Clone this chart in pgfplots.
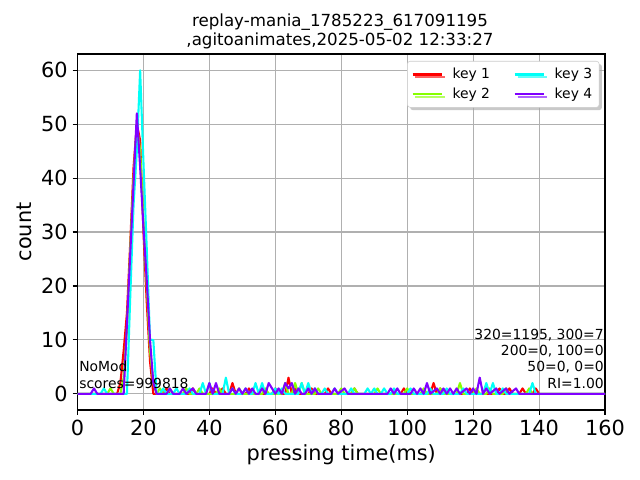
\documentclass[border=0pt]{standalone}
\usepackage{fontspec}
\setmainfont{DejaVu Sans}
\usepackage{pgfplots}
\pgfplotsset{compat=1.18}
\usetikzlibrary{shadows}
\definecolor{k1}{rgb}{1,0,0}
\definecolor{k2}{rgb}{0.53,1,0}
\definecolor{k3}{rgb}{0,1,0.97}
\definecolor{k4}{rgb}{0.5,0,1}
\definecolor{gridc}{HTML}{B0B0B0}
\definecolor{legc}{HTML}{CCCCCC}
\makeatletter
\pgfplotsset{legend image code/.code={\let\tikz@preactions\pgfutil@empty\let\tikz@postactions\pgfutil@empty
  \draw[#1, line width=1.5pt] (0pt,0pt) -- (21pt,0pt);}}
\makeatother
\begin{document}
\begin{tikzpicture}
\path[use as bounding box, fill=white] (0,0) rectangle (460.8pt,345.6pt);
\begin{axis}[
  at={(55.8pt,50.4pt)}, anchor=south west,
  scale only axis, width=379.8pt, height=256.3pt,
  xmin=0, xmax=160, ymin=-3, ymax=63,
  xtick={0,20,...,160}, ytick={0,10,...,60},
  grid=major, grid style={color=gridc, line width=0.8pt},
  axis line style={line width=0.8pt},
  tick align=outside, xtick pos=bottom, ytick pos=left,
  major tick length=3.5pt,
  every tick/.style={line width=0.8pt, black},
  ticklabel style={font=\fontsize{15}{18}\selectfont},
  /pgf/number format/assume math mode=true,
  xlabel={pressing time(ms)}, ylabel={count},
  label style={font=\fontsize{15}{18}\selectfont},
  legend columns=2, transpose legend,
  legend style={at={(1,1)}, anchor=north east, xshift=-4pt, yshift=-5pt,
    draw=legc, fill=white, rounded corners=2pt,
    drop shadow={shadow xshift=2pt, shadow yshift=-2pt, fill=gray!70, opacity=0.6},
    font=\fontsize{10}{12}\selectfont, inner xsep=3pt, inner ysep=3pt, row sep=1pt,
    /tikz/every odd column/.append style={column sep=5pt},
    /tikz/every even column/.append style={column sep=15pt}},
  every axis plot/.append style={line width=1.5pt, line join=round},
]
\addplot[k1] coordinates {(0,0)(12,0)(13,2)(14,8)(15,15)(16,28)(17,42)(18,50)(19,47)(20,30)(21,17)(22,6)(23,0)
(26,0)(27,1)(28,0)(34,0)(35,1)(36,0)(40,0)(41,1)(42,0)(43,0)(44,1)(45,0)(46,0)(47,2)(48,0)(51,0)(52,1)(53,0)(59,0)(60,1)(61,0)(63,0)(64,3)(65,0)(66,1)(67,0)(70,0)(71,1)(72,0)(75,0)(76,1)(77,0)(83,0)(84,1)(85,0)(98,0)(99,1)(100,0)(107,0)(108,2)(109,0)(110,1)(111,0)(118,0)(119,1)(120,0)(127,0)(128,1)(129,0)(130,0)(131,1)(132,0)(134,0)(135,1)(136,0)(138,0)(139,1)(140,0)(160,0)};
\addplot[k2] coordinates {(0,0)(9,0)(10,1)(11,0)(13,0)(14,3)(15,12)(16,27)(17,40)(18,50)(19,45)(20,32)(21,20)(22,8)(23,2)(24,0)
(25,1)(26,0)(27,0)(28,1)(29,0)(32,0)(33,1)(34,0)(36,0)(37,1)(38,0)(42,0)(43,1)(44,0)(48,0)(49,1)(50,0)(56,0)(57,1)(58,0)(62,0)(63,2)(64,0)(65,0)(66,2)(67,0)(68,2)(69,0)(72,0)(73,1)(74,0)(79,0)(80,1)(81,0)(83,0)(84,1)(85,0)(90,0)(91,1)(92,0)(99,0)(100,1)(101,0)(104,0)(105,1)(106,0)(109,0)(110,1)(111,0)(115,0)(116,2)(117,0)(120,0)(121,1)(122,0)(124,0)(125,1)(126,0)(129,0)(130,1)(131,0)(136,0)(137,1)(138,0)(160,0)};
\addplot[k3] coordinates {(0,0)(7,0)(8,1)(9,0)(15,0)(16,18)(17,35)(18,45)(19,60)(20,43)(21,27)(22,10)(23,10)(24,0)
(25,0)(26,1)(27,0)(29,0)(30,1)(31,0)(33,0)(34,1)(35,0)(37,0)(38,2)(39,0)(40,2)(41,0)(44,0)(45,3)(46,0)(47,1)(48,0)(50,0)(51,1)(52,0)(53,0)(54,2)(55,0)(56,2)(57,0)(59,0)(60,1)(61,0)(62,1)(63,0)(67,0)(68,2)(69,0)(70,2)(71,0)(72,1)(73,0)(74,0)(75,1)(76,0)(77,0)(78,1)(79,0)(82,0)(83,1)(84,0)(87,0)(88,1)(89,0)(90,1)(91,0)(92,0)(93,1)(94,0)(95,0)(96,1)(97,0)(100,0)(101,1)(102,0)(106,0)(107,1)(108,0)(111,0)(112,1)(113,0)(116,0)(117,1)(118,0)(123,0)(124,2)(125,0)(126,2)(127,0)(128,0)(129,1)(130,0)(137,0)(138,2)(139,0)(160,0)};
\addplot[k4] coordinates {(0,0)(4,0)(5,1)(6,0)(14,0)(15,13)(16,26)(17,39)(18,52)(19,42)(20,31)(21,21)(22,10)(23,2)(24,0)
(27,0)(28,1)(29,0)(31,0)(32,1)(33,0)(35,1)(36,0)(39,0)(40,2)(41,0)(42,2)(43,0)(46,0)(47,1)(48,0)(49,1)(50,0)(51,1)(52,0)(53,1)(54,0)(55,0)(56,1)(57,0)(58,2)(59,1)(60,0)(61,1)(62,0)(63,2)(64,1)(65,2)(66,0)(67,1)(68,0)(69,0)(70,1)(71,0)(72,1)(73,0)(77,0)(78,1)(79,0)(81,1)(82,0)(94,0)(95,1)(96,0)(97,1)(98,0)(101,0)(102,1)(103,0)(104,1)(105,0)(106,2)(107,0)(109,1)(110,0)(111,1)(112,0)(113,1)(114,0)(115,1)(116,0)(118,1)(119,0)(120,1)(121,0)(122,3)(123,0)(124,1)(125,0)(127,1)(128,0)(130,1)(131,0)(133,1)(134,0)(160,0)};
\legend{key 1, key 2, key 3, key 4}
\end{axis}
\node[anchor=base, font=\fontsize{12}{14}\selectfont] at (244.8pt,326.4pt) {replay-mania\_1785223\_617091195};
\node[anchor=base, font=\fontsize{12}{14}\selectfont] at (244.8pt,312.7pt) {,agitoanimates,2025-05-02 12:33:27};
\node[anchor=base west, inner sep=0pt, font=\fontsize{10}{12}\selectfont] at (56.9pt,77.8pt) {NoMod};
\node[anchor=base west, inner sep=0pt, font=\fontsize{10}{12}\selectfont] at (56.9pt,66.2pt) {scores=999818};
\node[anchor=base east, inner sep=0pt, font=\fontsize{10}{12}\selectfont] at (434.9pt,101.5pt) {320=1195, 300=7};
\node[anchor=base east, inner sep=0pt, font=\fontsize{10}{12}\selectfont] at (434.9pt,89.8pt) {200=0, 100=0};
\node[anchor=base east, inner sep=0pt, font=\fontsize{10}{12}\selectfont] at (434.9pt,77.8pt) {50=0, 0=0};
\node[anchor=base east, inner sep=0pt, font=\fontsize{10}{12}\selectfont] at (434.9pt,66.2pt) {RI=1.00};
\end{tikzpicture}
\end{document}
